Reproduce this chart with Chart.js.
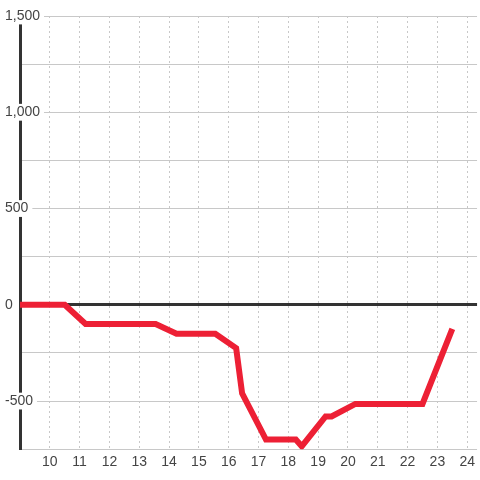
<!DOCTYPE html>
<html>
<head>
<meta charset="utf-8">
<script src="https://cdn.jsdelivr.net/npm/chart.js@4/dist/chart.umd.min.js"></script>
<style>
  html, body { margin: 0; padding: 0; background: #fff; }
  #wrap { width: 480px; height: 480px; }
</style>
</head>
<body>
<div id="wrap"><canvas id="myChart"></canvas></div>
<script>
// values (x in hours-ish units, y in value units)
const xValues = [9, 10.5, 11.2, 13.55, 14.25, 15.55, 16.25, 16.45, 17.25, 18.25, 18.45, 19.25, 19.45, 20.25, 22.5, 23.5];
const yValues = [0, 0, -100, -100, -150, -150, -225, -460, -700, -700, -735, -580, -580, -515, -515, -125];
const xTicks = [10, 11, 12, 13, 14, 15, 16, 17, 18, 19, 20, 21, 22, 23, 24];
const yLabelTicks = [-500, 0, 500, 1000, 1500];

const points = xValues.map((x, i) => ({ x: x, y: yValues[i] }));

const data = {
  datasets: [
    {
      label: 'Series',
      data: points,
      borderColor: '#ED2035',
      borderWidth: 6,
      borderJoinStyle: 'miter',
      pointRadius: 0,
      fill: false,
      tension: 0,
    },
  ],
};

const config = {
  type: 'line',
  data: data,
  options: {
    responsive: true,
    maintainAspectRatio: false,
    animation: false,
    layout: { padding: { left: 5, top: 16, right: 0, bottom: 4 } },
    plugins: { legend: { display: false }, tooltip: { enabled: false } },
    scales: {
      x: {
        type: 'linear',
        min: 9,
        max: 24.33,
        border: { display: false, dash: [2, 3] },
        grid: { color: '#c8c8c8', drawTicks: false },
        ticks: {
          stepSize: 1,
          includeBounds: false,
          padding: 5,
          color: '#444',
          font: { family: 'Liberation Sans, Arial, sans-serif', size: 14 },
          callback: (v) => (xTicks.includes(v) ? String(v) : ''),
        },
      },
      y: {
        min: -750,
        max: 1500,
        afterFit: (scale) => { scale.width = 15; },
        border: { display: true, color: '#333', width: 3 },
        grid: {
          drawTicks: false,
          color: (ctx) => (ctx.tick && ctx.tick.value === 0 ? '#333' : '#c8c8c8'),
          lineWidth: (ctx) => (ctx.tick && ctx.tick.value === 0 ? 3 : 1),
        },
        ticks: {
          stepSize: 250,
          mirror: true,
          padding: -15,
          color: '#444',
          font: { family: 'Liberation Sans, Arial, sans-serif', size: 14 },
          showLabelBackdrop: true,
          backdropColor: (ctx) => (yLabelTicks.includes(ctx.tick.value) ? '#fff' : 'rgba(0,0,0,0)'),
          backdropPadding: { left: 2, right: 4, top: 0, bottom: 0 },
          callback: (v) => (yLabelTicks.includes(v) ? v.toLocaleString('en-US') : ''),
        },
      },
    },
  },
};

const myChart = new Chart(document.getElementById('myChart'), config);
</script>
</body>
</html>
